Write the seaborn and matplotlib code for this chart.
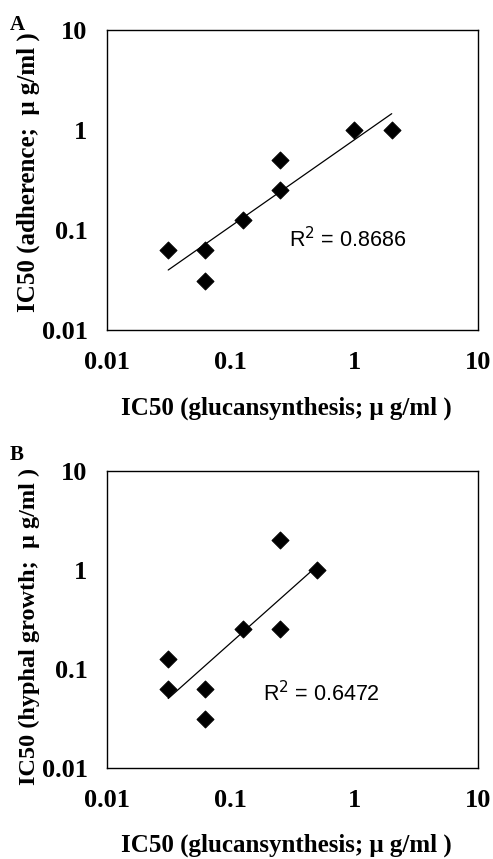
import numpy as np
import matplotlib
matplotlib.use("Agg")
import matplotlib.pyplot as plt
import seaborn as sns
import pandas as pd

# Panel A: glucan synthesis vs adherence IC50 (ug/ml)
glucan_a = [0.03125, 0.0625, 0.0625, 0.125, 0.25, 0.25, 1, 2]
adherence_a = [0.0625, 0.0625, 0.03125, 0.125, 0.5, 0.25, 1, 1]
r2_a = "0.8686"

# Panel B: glucan synthesis vs hyphal growth IC50 (ug/ml)
glucan_b = [0.03125, 0.03125, 0.0625, 0.0625, 0.125, 0.25, 0.25, 0.5]
hyphal_b = [0.125, 0.0625, 0.0625, 0.03125, 0.25, 2, 0.25, 1]
r2_b = "0.6472"

ticks = [0.01, 0.1, 1, 10]
tick_labels = ["0.01", "0.1", "1", "10"]

sns.set_style("white")
plt.rcParams['font.family'] = ['Liberation Serif', 'DejaVu Serif']
for key in ['text.color', 'axes.labelcolor', 'xtick.color', 'ytick.color']:
    plt.rcParams[key] = 'black'

fig = plt.figure(figsize=(4.93, 8.59), dpi=100)
ax_a = fig.add_axes([0.217, 0.6158, 0.753, 0.349])
ax_b = fig.add_axes([0.217, 0.1063, 0.753, 0.3457])


def draw_panel(ax, x, y, ylabel, ylabel_y, ylabel_size, r2, r2_pos, letter, letter_pos):
    df = pd.DataFrame({'x': x, 'y': y})
    # power trendline (linear fit in log-log space)
    k, b = np.polyfit(np.log10(df['x']), np.log10(df['y']), 1)
    xs = np.geomspace(df['x'].min(), df['x'].max(), 50)
    ys = 10 ** (b + k * np.log10(xs))
    sns.lineplot(x=xs, y=ys, ax=ax, color='black', linewidth=0.9, sort=False)
    sns.scatterplot(data=df, x='x', y='y', ax=ax, marker='D', s=75,
                    color='black', edgecolor='black', zorder=3)
    ax.set_xscale('log')
    ax.set_yscale('log')
    ax.set_xlim(0.01, 10)
    ax.set_ylim(0.01, 10)
    ax.set_xticks(ticks)
    ax.set_xticklabels(tick_labels)
    ax.set_yticks(ticks)
    ax.set_yticklabels(tick_labels)
    ax.minorticks_off()
    ax.tick_params(axis='x', length=0, pad=15, labelsize=19)
    ax.tick_params(axis='y', length=0, pad=14, labelsize=19)
    for lab in ax.get_xticklabels() + ax.get_yticklabels():
        lab.set_fontweight('bold')
    for sp in ax.spines.values():
        sp.set_color('black')
        sp.set_linewidth(1.0)
    ax.set_xlabel("IC50 (glucansynthesis; \u03bc g/ml )", fontsize=18,
                  fontweight='bold', labelpad=16)
    ax.xaxis.label.set_x(0.482)
    ax.set_ylabel(ylabel, fontsize=ylabel_size, fontweight='bold')
    ax.yaxis.set_label_coords(-0.18, ylabel_y)
    ax.text(r2_pos[0], r2_pos[1], "R$^2$ = " + r2, transform=ax.transAxes,
            fontsize=15.5, family='Liberation Sans', va='center', ha='left')
    fig.text(letter_pos[0], letter_pos[1], letter, fontsize=15,
             fontweight='bold', ha='left', va='center')


draw_panel(ax_a, glucan_a, adherence_a, "IC50 (adherence;  \u03bc g/ml )", 0.527, 18,
           r2_a, (0.49, 0.30), "A", (0.02, 0.971))
draw_panel(ax_b, glucan_b, hyphal_b, "IC50 (hyphal growth;  \u03bc g/ml )", 0.475, 17.5,
           r2_b, (0.42, 0.25), "B", (0.02, 0.470))

fig.savefig("out.png", dpi=100)
